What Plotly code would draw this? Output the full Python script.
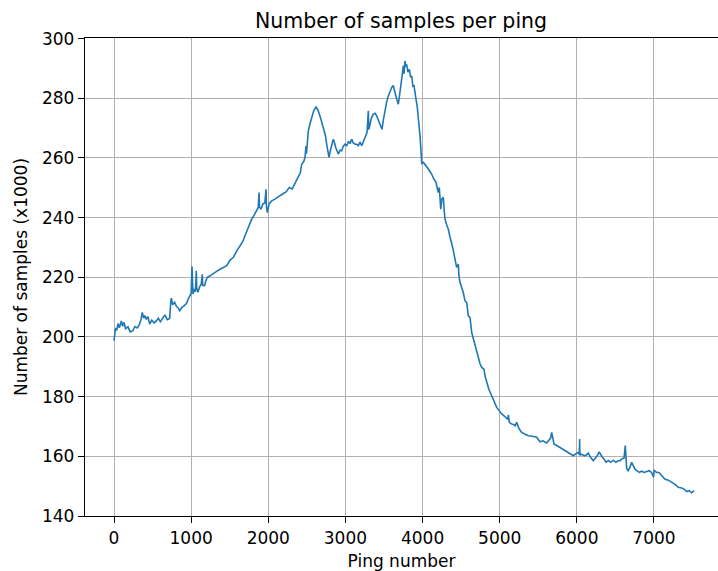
import plotly.graph_objects as go

# Ping number (x) and number of samples in thousands (y)
ping = [0, 9, 20, 35, 52, 70, 95, 112, 130, 150, 181, 210, 246, 270, 302, 330, 350, 367, 385, 400, 419, 440,
        462, 490, 520, 549, 575, 600, 635, 660, 690, 722, 735, 743, 760, 786, 810, 830, 851, 880, 907, 940,
        960, 981, 1000, 1011, 1016, 1024, 1040, 1055, 1067, 1072, 1089, 1110, 1130, 1145, 1150, 1175, 1190,
        1209, 1245, 1290, 1330, 1374, 1420, 1461, 1500, 1547, 1590, 1633, 1670, 1698, 1720, 1741, 1765,
        1785, 1820, 1849, 1870, 1880, 1886, 1906, 1930, 1955, 1971, 1976, 1988, 2010, 2044, 2080, 2120,
        2152, 2190, 2230, 2273, 2310, 2350, 2390, 2415, 2433, 2460, 2476, 2489, 2495, 2519, 2540, 2563,
        2590, 2619, 2645, 2670, 2714, 2740, 2757, 2775, 2787, 2805, 2822, 2843, 2860, 2874, 2908, 2930,
        2951, 2970, 2995, 3016, 3040, 3060, 3081, 3100, 3124, 3146, 3167, 3190, 3211, 3235, 3254, 3280,
        3297, 3302, 3310, 3335, 3361, 3385, 3405, 3439, 3474, 3490, 3513, 3535, 3556, 3580, 3600, 3620,
        3634, 3665, 3686, 3700, 3716, 3735, 3750, 3760, 3772, 3783, 3794, 3810, 3828, 3845, 3859, 3875,
        3889, 3900, 3915, 3930, 3945, 3958, 3967, 3975, 3980, 3990, 4010, 4030, 4054, 4080, 4100, 4118,
        4140, 4160, 4174, 4190, 4204, 4217, 4225, 4236, 4250, 4269, 4280, 4291, 4310, 4334, 4355, 4378,
        4395, 4412, 4430, 4442, 4464, 4470, 4485, 4505, 4528, 4550, 4572, 4593, 4615, 4637, 4660, 4680,
        4700, 4723, 4745, 4767, 4796, 4810, 4831, 4860, 4896, 4930, 4961, 4990, 5026, 5060, 5091, 5105,
        5113, 5125, 5156, 5180, 5199, 5220, 5250, 5285, 5330, 5372, 5420, 5480, 5522, 5560, 5609, 5640,
        5660, 5674, 5690, 5704, 5730, 5760, 5790, 5825, 5860, 5890, 5920, 5954, 5990, 6019, 6032, 6036,
        6040, 6049, 6075, 6105, 6130, 6148, 6180, 6213, 6240, 6265, 6290, 6309, 6330, 6352, 6380, 6408,
        6440, 6473, 6505, 6538, 6560, 6582, 6612, 6628, 6634, 6640, 6646, 6665, 6689, 6710, 6733, 6755,
        6776, 6810, 6841, 6875, 6906, 6940, 6970, 6995, 7000, 7005, 7035, 7065, 7100, 7140, 7186, 7230,
        7273, 7315, 7359, 7390, 7424, 7455, 7489, 7520, 7553]

samples = [198.8, 201.5, 203.0, 202.2, 204.5, 203.1, 205.4, 203.6, 204.9, 202.8, 203.4, 201.7, 202.1, 203.5,
           203.0, 204.2, 205.8, 208.2, 206.3, 207.2, 205.9, 206.8, 204.3, 205.6, 204.7, 205.4, 206.3, 205.1,
           206.6, 207.4, 205.8, 206.2, 211.5, 213.0, 210.8, 211.6, 210.2, 209.8, 208.8, 209.9, 210.4, 211.2,
           212.6, 213.8, 214.6, 223.6, 215.5, 214.4, 216.1, 215.2, 222.2, 216.4, 215.0, 216.9, 217.6, 221.0,
           217.3, 217.2, 218.8, 220.0, 220.5, 221.4, 222.0, 222.7, 223.4, 223.9, 225.6, 226.7, 228.8, 230.5,
           232.0, 233.9, 235.2, 236.7, 238.4, 239.5, 241.0, 242.3, 243.4, 248.4, 243.6, 242.8, 244.6, 244.9,
           249.5, 243.8, 241.7, 244.6, 245.6, 246.1, 246.9, 247.3, 248.0, 248.6, 250.1, 249.6, 251.6, 253.5,
           255.0, 257.9, 258.8, 260.2, 264.0, 261.4, 269.1, 271.4, 273.6, 275.9, 277.1, 276.0, 274.1, 270.2,
           267.6, 264.6, 262.0, 260.2, 262.5, 264.1, 266.3, 265.0, 263.5, 261.3, 262.6, 262.4, 263.8, 264.6,
           264.1, 265.6, 264.8, 266.3, 265.1, 264.6, 264.6, 264.1, 265.3, 264.1, 265.6, 266.9, 268.5, 275.8,
           269.5, 270.2, 273.2, 274.7, 275.0, 274.1, 271.9, 269.6, 272.5, 276.3, 278.8, 280.8, 282.6, 283.6,
           284.3, 282.5, 279.7, 278.0, 280.4, 283.0, 287.5, 290.9, 288.2, 292.5, 290.6, 291.4, 288.8, 289.7,
           287.0, 287.5, 284.0, 284.2, 281.8, 279.7, 277.4, 274.1, 270.5, 267.4, 264.2, 259.0, 258.2, 258.5,
           257.9, 256.8, 256.1, 255.3, 254.6, 253.2, 252.4, 251.8, 250.0, 248.4, 250.1, 245.4, 242.8, 246.2,
           246.8, 242.6, 239.5, 237.8, 236.1, 233.6, 231.7, 229.5, 227.2, 225.0, 223.3, 224.4, 221.0, 218.3,
           216.6, 214.9, 212.1, 211.6, 207.1, 206.6, 201.5, 199.3, 196.5, 194.8, 192.6, 191.0, 189.8, 189.2,
           186.9, 184.8, 182.4, 180.3, 178.2, 176.4, 175.4, 174.2, 173.5, 172.5, 172.4, 173.9, 171.4, 170.8,
           170.7, 170.2, 171.4, 169.3, 168.0, 167.4, 166.9, 166.7, 166.4, 164.9, 165.2, 164.5, 165.4, 166.1,
           168.0, 165.6, 164.1, 163.8, 163.3, 162.8, 162.2, 161.8, 161.3, 160.8, 160.2, 160.9, 161.3, 160.6,
           165.8, 160.3, 160.8, 160.6, 160.2, 160.6, 161.1, 159.6, 158.5, 159.4, 160.2, 161.5, 160.4, 159.7,
           159.1, 158.0, 158.6, 158.0, 158.7, 158.0, 158.5, 158.5, 159.1, 159.4, 163.6, 158.2, 156.9, 155.9,
           155.2, 156.4, 158.0, 156.5, 155.7, 155.2, 154.6, 155.0, 154.6, 154.9, 155.2, 154.5, 153.0, 154.8,
           155.2, 154.6, 154.6, 153.6, 152.4, 152.0, 151.3, 150.6, 149.6, 149.4, 149.0, 148.2, 148.5, 147.8,
           148.5]

x_ticks = [0, 1000, 2000, 3000, 4000, 5000, 6000, 7000]
y_ticks = [140, 160, 180, 200, 220, 240, 260, 280, 300]

fig = go.Figure()
fig.add_trace(go.Scatter(
    x=ping, y=samples, mode="lines",
    line=dict(color="#1f77b4", width=1.6),
    showlegend=False,
))

font = "DejaVu Sans, Arial, sans-serif"
fig.update_layout(
    width=718, height=571,
    margin=dict(l=85, r=0, t=38, b=55),
    paper_bgcolor="white", plot_bgcolor="white",
    font=dict(family=font, size=17, color="black"),
    title=dict(text="Number of samples per ping", x=0.5585, xanchor="center",
               y=1 - 20.5 / 571, yanchor="middle", font=dict(size=20.5, color="black")),
)
fig.update_xaxes(
    range=[-376, 7830], tickmode="array", tickvals=x_ticks,
    ticks="outside", ticklen=6, tickwidth=1.3, tickcolor="black",
    showline=True, linecolor="black", linewidth=1.4, mirror=True,
    showgrid=True, gridcolor="#b0b0b0", gridwidth=1.2, zeroline=False,
    title=dict(text="Ping number", standoff=8, font=dict(size=17)),
    tickfont=dict(size=17),
)
fig.update_yaxes(
    range=[140, 300.2], tickmode="array", tickvals=y_ticks,
    ticks="outside", ticklen=6, tickwidth=1.3, tickcolor="black",
    showline=True, linecolor="black", linewidth=1.4,
    showgrid=True, gridcolor="#b0b0b0", gridwidth=1.2, zeroline=False,
    title=dict(text="Number of samples (x1000)", standoff=9, font=dict(size=17)),
    tickfont=dict(size=17),
)

fig.write_html("out.html")
